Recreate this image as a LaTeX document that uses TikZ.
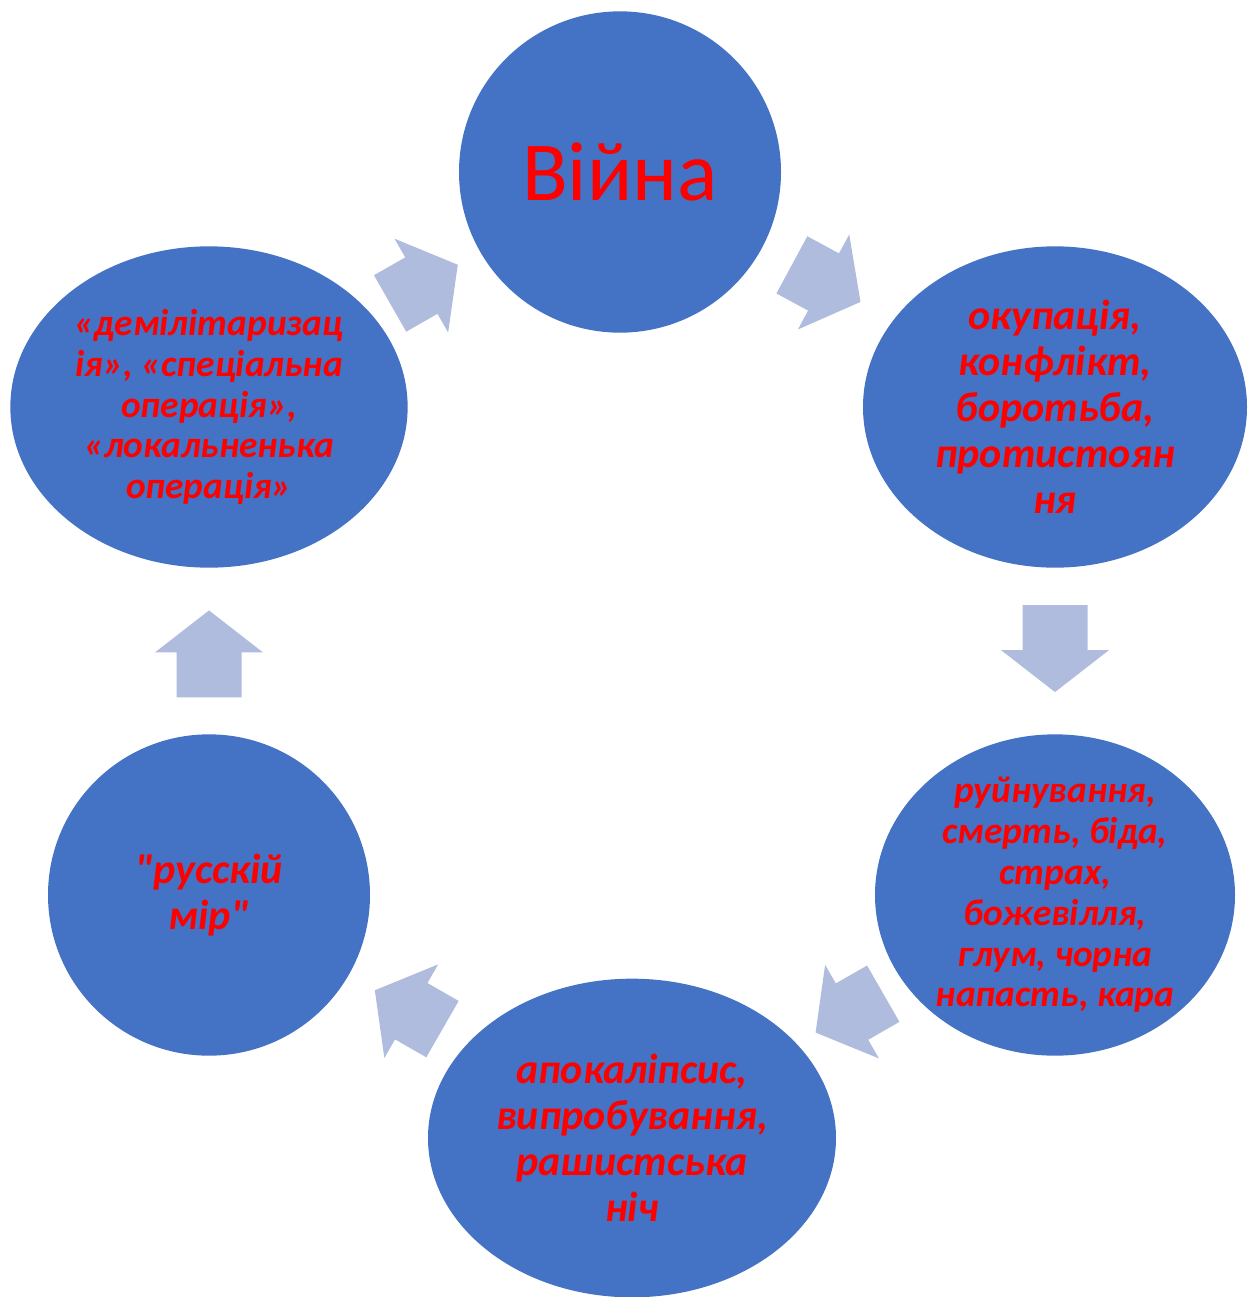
\documentclass[tikz,border=0pt]{standalone}
\usepackage{fontspec}
\newfontfamily\carlito{Carlito}
\usetikzlibrary{shapes.geometric}

\definecolor{bubblefill}{HTML}{4472C4}
\definecolor{arrowfill}{HTML}{B0BCDE}
\definecolor{wordred}{HTML}{FF0000}

\begin{document}
\begin{tikzpicture}[
    x=0.75pt, y=-0.75pt,
    bubble/.style={ellipse, fill=bubblefill, draw=none, inner sep=0pt},
    say/.style={text=wordred, align=center, inner sep=0pt, font=\carlito\bfseries\itshape\fontsize{31.5}{34.5}\selectfont},
    saysmall/.style={say, font=\carlito\bfseries\itshape\fontsize{28}{30.6}\selectfont},
    pics/cyclearrow/.style={code={
        % shaft half width 32.5, head half width 54, head length 42
        \fill[arrowfill] (-#1/2,-32.5) -- (#1/2-42,-32.5) -- (#1/2-42,-54) -- (#1/2,0)
            -- (#1/2-42,54) -- (#1/2-42,32.5) -- (-#1/2,32.5) -- cycle;
    }}
]
\useasboundingbox (0,0) rectangle (1256,1297);

% bubbles of the cycle
\node[bubble, minimum width=241.5pt, minimum height=241pt] (war) at (620,172) {};
\node[bubble, minimum width=288pt, minimum height=241pt] (occ) at (1055,407) {};
\node[bubble, minimum width=270pt, minimum height=241pt] (ruin) at (1055,895) {};
\node[bubble, minimum width=306pt, minimum height=239pt] (apoc) at (632,1138) {};
\node[bubble, minimum width=241.5pt, minimum height=241pt] (russ) at (209,895) {};
\node[bubble, minimum width=298pt, minimum height=241pt] (demil) at (209,407) {};

% words in them
\node[text=wordred, font=\carlito\fontsize{63}{70}\selectfont] (war-t) at (war) {Війна};
\node[say] (occ-t) at (occ) {окупація,\\конфлікт,\\боротьба,\\протистоян\\ня};
\node[saysmall] (ruin-t) at (ruin) {руйнування,\\смерть, біда,\\страх,\\божевілля,\\глум, чорна\\напасть, кара};
\node[say] (apoc-t) at (apoc) {апокаліпсис,\\випробування,\\рашистська\\ніч};
\node[say] (russ-t) at (russ) {"русскій\\мір"};
\node[saysmall] (demil-t) at (demil) {«демілітаризац\\ія», «спеціальна\\операція»,\\«локальненька\\операція»};

% arrows between them
\path (war.center) -- (occ.center) pic[pos=0.474, sloped, allow upside down] {cyclearrow=78};
\path (occ.center) -- (ruin.center) pic[pos=0.495, sloped, allow upside down] {cyclearrow=87};
\path (ruin.center) -- (apoc.center) pic[pos=0.486, sloped, allow upside down] {cyclearrow=78};
\path (apoc.center) -- (russ.center) pic[pos=0.528, sloped, allow upside down] {cyclearrow=78};
\path (russ.center) -- (demil.center) pic[pos=0.494, sloped, allow upside down] {cyclearrow=87};
\path (demil.center) -- (war.center) pic[pos=0.523, sloped, allow upside down] {cyclearrow=78};

\end{tikzpicture}
\end{document}
